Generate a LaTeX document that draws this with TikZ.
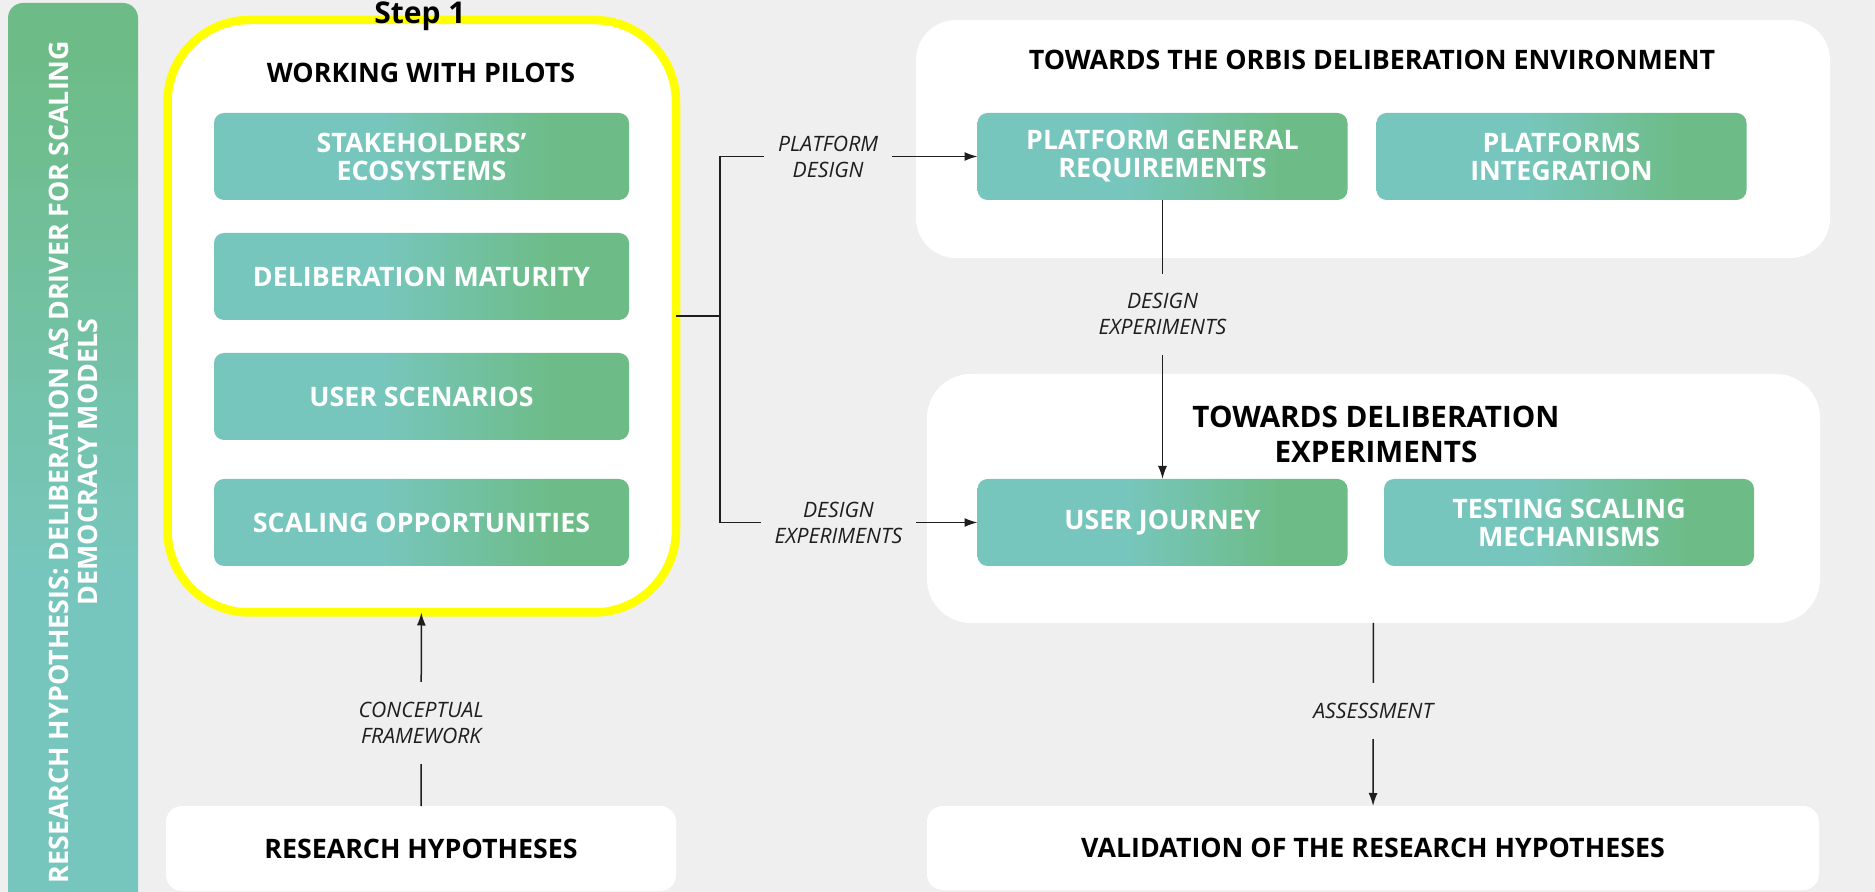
\documentclass[tikz,border=0pt]{standalone}
\usepackage{fontspec}
\setmainfont{Open Sans}
\usetikzlibrary{positioning, arrows.meta}
\definecolor{bggray}{HTML}{EFEFEF}
\definecolor{pilotyellow}{HTML}{FFFF00}
\definecolor{boxteal}{HTML}{77C6BD}
\definecolor{boxgreen}{HTML}{6DBC87}
\definecolor{linegray}{HTML}{1E1E1E}
\pgfdeclarehorizontalshading{boxshade}{100bp}{color(0bp)=(boxteal); color(45bp)=(boxteal); color(66bp)=(boxgreen); color(100bp)=(boxgreen)}
\pgfdeclareverticalshading{barshade}{100bp}{color(0bp)=(boxteal); color(44bp)=(boxteal); color(72bp)=(boxgreen); color(100bp)=(boxgreen)}
\newcommand{\headfont}{\fontsize{13.4}{17.5}\selectfont\bfseries}
\newcommand{\bigheadfont}{\fontsize{14.8}{17.5}\selectfont\bfseries}
\newcommand{\stepfont}{\fontsize{15}{17}\selectfont\bfseries}
\newcommand{\boxfont}{\fontsize{13.4}{14}\selectfont\bfseries}
\newcommand{\sidefont}{\fontsize{13.4}{14.5}\selectfont\bfseries}
\newcommand{\labelfont}{\fontsize{10.6}{13}\selectfont\itshape}

\begin{document}
\begin{tikzpicture}[x=0.5pt, y=-0.5pt,
greenbox/.style={
shading=boxshade,
rounded corners=5pt,
text=white,
font=\boxfont,
align=center,
minimum height=43.5pt,
inner sep=0pt,
outer sep=0pt
},
whitebox/.style={fill=white, inner sep=0pt, outer sep=0pt},
heading/.style={font=\headfont, anchor=base},
flowlabel/.style={fill=bggray, font=\labelfont, align=center, text=linegray, inner xsep=7pt, inner ysep=10pt},
flow/.style={draw=linegray, line width=0.75pt, -{Latex[length=6.5pt,width=4.5pt]}},
plainline/.style={draw=linegray, line width=0.75pt}]

% background
\fill[bggray] (0,0) rectangle (1875,892);
\useasboundingbox (0,0) rectangle (1875,892);

% hypothesis bar
\shade[shading=barshade, rounded corners=7.5pt] (8,3) rectangle (138,921);
\node[rotate=90, text=white, font=\sidefont, align=center] (hypothesis) at (73,462) {RESEARCH HYPOTHESIS: DELIBERATION AS DRIVER FOR SCALING\\DEMOCRACY MODELS};

% containers
\node[whitebox, draw=pilotyellow, line width=4.25pt, rounded corners=41pt, minimum width=254.25pt, minimum height=296.25pt] (pilots) at (421.75,316.25) {};
\node[whitebox, rounded corners=20pt, minimum width=457pt, minimum height=119pt] (orbis) at (1373,139) {};
\node[whitebox, rounded corners=22pt, minimum width=446.5pt, minimum height=124.5pt] (experiments) at (1373.5,498.5) {};
\node[whitebox, rounded corners=8pt, minimum width=255pt, minimum height=42.5pt, font=\headfont] (hypotheses) at (421,848.5) {RESEARCH HYPOTHESES};
\node[whitebox, rounded corners=8pt, minimum width=446pt, minimum height=42pt, font=\headfont] (validation) at (1373,848) {VALIDATION OF THE RESEARCH HYPOTHESES};

% titles
\node[heading, font=\stepfont] (step) at (420,24) {Step 1};
\node[heading] (pilotstitle) at (421,83) {WORKING WITH PILOTS};
\node[heading] (orbistitle) at (1372,70) {TOWARDS THE ORBIS DELIBERATION ENVIRONMENT};
\node[font=\bigheadfont, align=center] (exptitle) at (1376,434) {TOWARDS DELIBERATION\\EXPERIMENTS};

% pilot boxes
\node[greenbox, minimum width=207.5pt] (ecosystems) at (421.5,156.5) {STAKEHOLDERS’\\ECOSYSTEMS};
\node[greenbox, minimum width=207.5pt, below=16.5pt of ecosystems] (maturity) {DELIBERATION MATURITY};
\node[greenbox, minimum width=207.5pt, below=16.5pt of maturity] (scenarios) {USER SCENARIOS};
\node[greenbox, minimum width=207.5pt, below=19.5pt of scenarios] (opportunities) {SCALING OPPORTUNITIES};

% platform and experiment boxes
\node[greenbox, minimum width=185pt] (requirements) at (1162.5,156.5) {PLATFORM GENERAL\\REQUIREMENTS};
\node[greenbox, minimum width=185pt, right=14.5pt of requirements] (integration) {PLATFORMS\\INTEGRATION};
\node[greenbox, minimum width=185pt] (journey) at (1162.5,522.5) {USER JOURNEY};
\node[greenbox, minimum width=185pt, right=18.25pt of journey] (testing) {TESTING SCALING\\MECHANISMS};

% connections
\coordinate (fork) at ([xshift=22pt]pilots.east);
\draw[plainline] (pilots.east) -- (fork);
\draw[flow] (fork) |- node[flowlabel, pos=0.71] {PLATFORM\\DESIGN} (requirements.west);
\draw[flow] (fork) |- node[flowlabel, pos=0.73] {DESIGN\\EXPERIMENTS} (journey.west);
\draw[flow] (requirements) -- node[flowlabel, pos=0.41] {DESIGN\\EXPERIMENTS} (journey);
\draw[flow] (hypotheses) -- node[flowlabel, pos=0.43] {CONCEPTUAL\\FRAMEWORK} (pilots);
\draw[flow] (experiments) -- node[flowlabel, pos=0.48] {ASSESSMENT} (validation);

\end{tikzpicture}
\end{document}
